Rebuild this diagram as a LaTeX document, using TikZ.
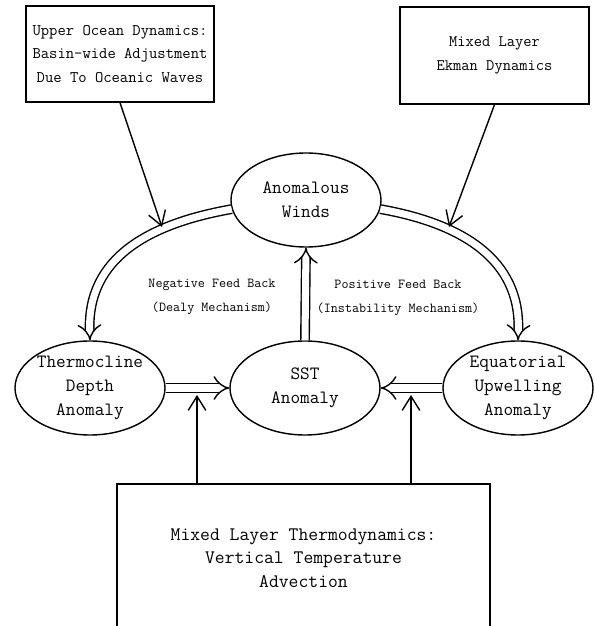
\documentclass[tikz,border=0pt]{standalone}
\usepackage{fontspec}
\usetikzlibrary{arrows.meta,shapes.geometric}

\begin{document}
\begin{tikzpicture}[line width=1.2pt,
  bubble/.style={draw, ellipse, align=center, inner sep=-4pt,
    minimum width=4.5cm, minimum height=2.82cm,
    font=\ttfamily\fontsize{16}{20.5}\selectfont},
  panel/.style={draw, rectangle, align=center, inner sep=0pt},
  feed/.style={double, double distance=6pt, -{Implies[length=11pt,width=17pt]}},
  push/.style={-{Straight Barb[length=12pt,width=15pt]}},
  remark/.style={align=center, font=\ttfamily\fontsize{11.7}{20.5}\selectfont}]
\useasboundingbox (0,0) rectangle (17.85,18.78);

\coordinate (w) at (9.18,12.78);
\coordinate (t) at (2.70,7.14);
\coordinate (s) at (9.15,7.14);
\coordinate (e) at (15.54,7.14);
\coordinate (lhit) at (4.86,11.97);
\coordinate (rhit) at (13.47,11.97);
\coordinate (tl) at (5.91,6.93);
\coordinate (tr) at (12.33,6.93);

\node[bubble] (winds) at (w) {Anomalous\\Winds};
\node[bubble] (thermo) at (t) {Thermocline\\Depth\\Anomaly};
\node[bubble] (sst) at (s) {SST\\Anomaly};
\node[bubble] (equat) at (e) {Equatorial\\Upwelling\\Anomaly};

\node[panel, minimum width=5.64cm, minimum height=2.88cm,
  font=\ttfamily\fontsize{13.8}{20}\selectfont] (ocean) at (3.6,17.16)
  {Upper Ocean Dynamics:\\Basin-wide Adjustment\\Due To Oceanic Waves};
\node[panel, minimum width=5.67cm, minimum height=2.91cm,
  font=\ttfamily\fontsize{13.7}{21}\selectfont] (ekman) at (14.835,17.115)
  {Mixed Layer\\Ekman Dynamics};
\node[panel, minimum width=11.19cm, minimum height=4.44cm,
  font=\ttfamily\fontsize{16.3}{20}\selectfont] (mixed) at (9.105,2.04)
  {Mixed Layer Thermodynamics:\\Vertical Temperature\\Advection};

\node[remark] (neg) at (6.36,9.87) {Negative Feed Back\\(Dealy Mechanism)};
\node[remark] (pos) at (11.94,9.84) {Positive Feed Back\\(Instability Mechanism)};

\draw[feed] (winds.187) to[out=190, in=92, looseness=1.1] (thermo.north);
\draw[feed] (winds.353) to[out=-10, in=88, looseness=1.1] (equat.north);
\draw[feed] (sst.north) -- (winds.south);
\draw[feed] (thermo.east) -- (sst.west);
\draw[feed] (equat.west) -- (sst.east);

\draw[push] (ocean.south) -- (lhit);
\draw[push] (ekman.south) -- (rhit);
\draw[push] (mixed.north -| tl) -- (tl);
\draw[push] (mixed.north -| tr) -- (tr);

%\node at (lhit){lhit};
%\node at (rhit){rhit};
%\node at (tl){tl};
%\node at (tr){tr};
\end{tikzpicture}
\end{document}
